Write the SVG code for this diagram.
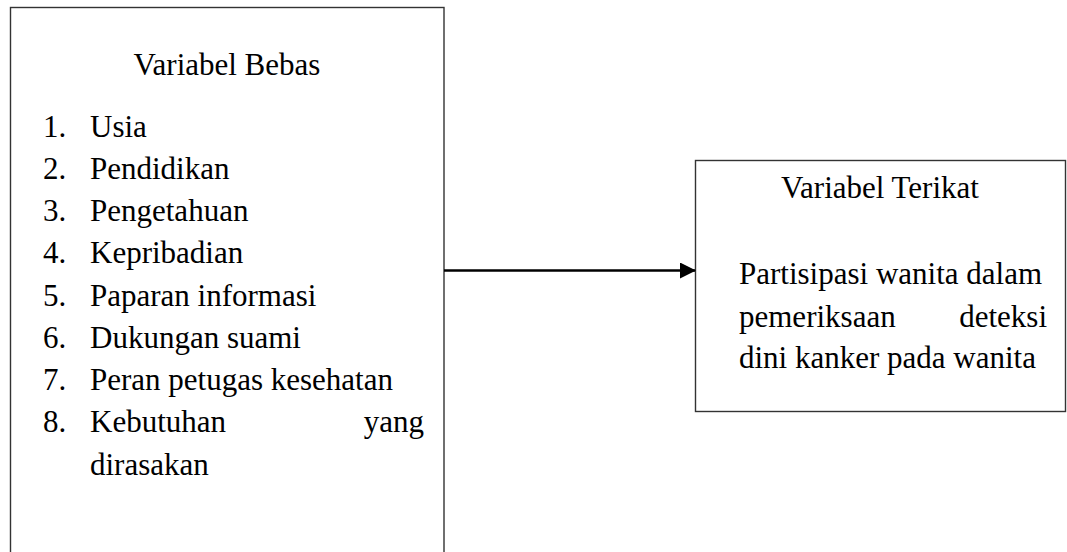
<svg xmlns="http://www.w3.org/2000/svg" width="1067" height="552" viewBox="0 0 1067 552">
<style>
.box{fill:#fff;stroke:#333;stroke-width:1.4}
text{font-family:"Liberation Serif","Times New Roman",serif;font-size:31px;fill:#000}
.c{text-anchor:middle}
.e{text-anchor:end}
.conn{stroke:#000;stroke-width:2.6;fill:none}
</style>
<defs>
<marker id="ah" markerWidth="16" markerHeight="16" refX="15" refY="8" orient="auto" markerUnits="userSpaceOnUse">
<path d="M0,0 L16,8 L0,16 Z" fill="#000"/>
</marker>
</defs>
<rect width="1067" height="552" fill="#fff"/>
<g id="variabel-bebas">
<rect class="box" x="10.5" y="7.5" width="433.5" height="560"/>
<text class="c" x="227" y="75">Variabel Bebas</text>
<text x="43" y="137">1.</text><text x="90" y="137">Usia</text>
<text x="43" y="179">2.</text><text x="90" y="179">Pendidikan</text>
<text x="43" y="221">3.</text><text x="90" y="221">Pengetahuan</text>
<text x="43" y="263">4.</text><text x="90" y="263">Kepribadian</text>
<text x="43" y="306">5.</text><text x="90" y="306">Paparan informasi</text>
<text x="43" y="348">6.</text><text x="90" y="348">Dukungan suami</text>
<text x="43" y="390">7.</text><text x="90" y="390">Peran petugas kesehatan</text>
<text x="43" y="432">8.</text><text x="90" y="432">Kebutuhan</text><text class="e" x="424" y="432">yang</text>
<text x="90" y="475">dirasakan</text>
</g>
<g id="variabel-terikat">
<rect class="box" x="695.5" y="160.5" width="370" height="251"/>
<text class="c" x="880" y="198">Variabel Terikat</text>
<text x="739" y="284">Partisipasi wanita dalam</text>
<text x="739" y="327">pemeriksaan</text><text class="e" x="1047" y="327">deteksi</text>
<text x="739" y="368">dini kanker pada wanita</text>
</g>
<g id="connectors">
<line class="conn" x1="444" y1="270.5" x2="695" y2="270.5" marker-end="url(#ah)"/>
</g>
</svg>
